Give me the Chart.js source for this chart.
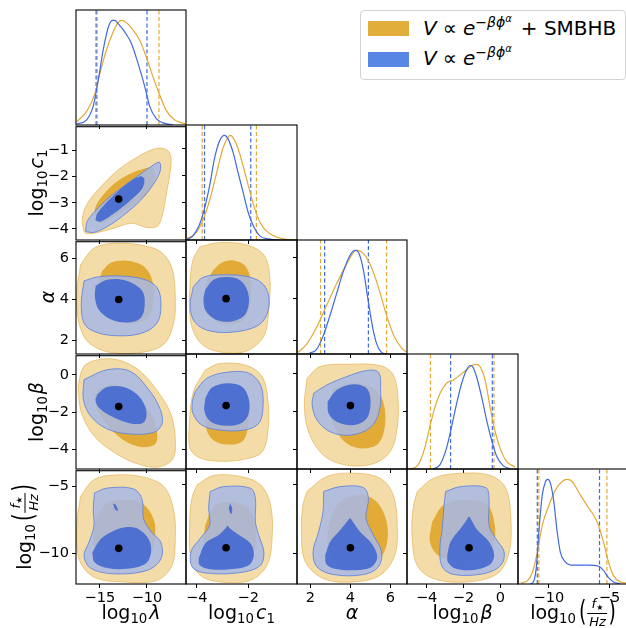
<!DOCTYPE html>
<html><head><meta charset="utf-8">
<script src="https://cdn.jsdelivr.net/npm/chart.js@4.4.1/dist/chart.umd.min.js"></script>
<style>
html,body{margin:0;padding:0;background:#fff;}
body{width:626px;height:628px;position:relative;overflow:hidden;font-family:"DejaVu Sans",sans-serif;color:#000;}
.pw{position:absolute;}
.pw canvas{display:block;}
.lab{position:absolute;font-size:19px;line-height:19px;white-space:nowrap;}
.xl{transform:translateX(-50%);}
.yl{transform:translate(-50%,-50%) rotate(-90deg);}
.it{font-style:italic;}
.sub{font-size:13.3px;position:relative;top:4px;}
.fr{display:inline-block;position:relative;width:20px;height:0;margin:0 1px;}
.fr .n{position:absolute;left:0;right:0;bottom:5px;text-align:center;font-size:13px;line-height:13px;border-bottom:1px solid #000;padding-bottom:1px;}
.fr .d{position:absolute;left:0;right:0;top:-4px;text-align:center;font-size:13px;line-height:13px;}
.st{font-size:8px;position:relative;top:2px;}
.bp{display:inline-block;transform:scaleY(1.45);transform-origin:50% 11px;}
#legend{position:absolute;left:360px;top:10px;width:264px;height:68px;border:1px solid #d3d3d3;border-radius:4px;background:#fff;}
.sw{position:absolute;left:7px;width:41px;height:15px;}
.lt{position:absolute;left:62px;font-size:20px;line-height:20px;white-space:nowrap;}
.sp{font-size:14px;position:relative;top:-8px;}
.sp2{font-size:10px;position:relative;top:-5px;}
</style></head><body>
<div id="panels"></div>

<div class="lab xl" style="left:131px;top:603px">log<span class="sub">10</span><span class="it" style="margin-left:2px">λ</span></div>
<div class="lab xl" style="left:241.5px;top:603px">log<span class="sub">10</span><span class="it" style="margin-left:2px">c</span><span class="sub">1</span></div>
<div class="lab xl" style="left:352px;top:603px"><span class="it">α</span></div>
<div class="lab xl" style="left:462.5px;top:603px">log<span class="sub">10</span><span class="it" style="margin-left:2px">β</span></div>
<div class="lab xl" style="left:573px;top:603px">log<span class="sub">10</span><span class="bp" style="margin-left:3px">(</span><span class="fr"><span class="n"><span class="it">f</span><span class="st">★</span></span><span class="d it">Hz</span></span><span class="bp">)</span></div>

<div class="lab yl" style="left:36.8px;top:182.5px">log<span class="sub">10</span><span class="it" style="margin-left:2px">c</span><span class="sub">1</span></div>
<div class="lab yl" style="left:46.5px;top:297px"><span class="it">α</span></div>
<div class="lab yl" style="left:36.8px;top:411.5px">log<span class="sub">10</span><span class="it" style="margin-left:2px">β</span></div>
<div class="lab yl" style="left:24.5px;top:526.5px">log<span class="sub">10</span><span class="bp" style="margin-left:3px">(</span><span class="fr"><span class="n"><span class="it">f</span><span class="st">★</span></span><span class="d it">Hz</span></span><span class="bp">)</span></div>

<div id="legend">
  <div class="sw" style="top:10px;background:rgb(225,174,60);"></div>
  <div class="sw" style="top:40.5px;background:rgb(88,134,228);"></div>
  <div class="lt" style="top:6.8px"><span class="it">V</span><span style="margin:0 6px">∝</span><span class="it">e</span><span class="sp">−<span class="it">βϕ</span><span class="sp2 it">α</span></span><span style="margin-left:9px">+ SMBHB</span></div>
  <div class="lt" style="top:36.8px"><span class="it">V</span><span style="margin:0 6px">∝</span><span class="it">e</span><span class="sp">−<span class="it">βϕ</span><span class="sp2 it">α</span></span></div>
</div>

<script>
// ---------------- DATA ----------------
// axis ranges and ticks per variable: [log10 lambda, log10 c1, alpha, log10 beta, log10 f*/Hz]
const X_RANGES = [[-17.53,-5.86],[-4.42,-0.10],[1.33,6.83],[-5.06,0.95],[-12.54,-3.47]];
const Y_RANGES = [null,[-4.42,-0.10],[1.33,6.83],[-5.04,1.02],[-12.26,-3.84]];
const X_TICKS = [[-15,-10],[-4,-2],[2,4,6],[-4,-2,0],[-10,-5]];
const Y_TICKS = [[],[-4,-3,-2,-1],[2,4,6],[-4,-2,0],[-10,-5]];
const MEDIAN = [-13.0,-2.86,4.0,-1.70,-9.61];

// 1D marginal densities (normalised to peak = 1): SMBHB (orange) and no SMBHB (blue)
const lam_S = [[-17.46,0.03],[-16.40,0.13],[-15.52,0.30],[-14.98,0.50],[-14.29,0.72],[-13.59,0.89],[-13.06,0.98],[-12.71,1.0],[-12.36,0.99],[-11.65,0.93],[-10.77,0.81],[-10.07,0.65],[-9.36,0.46],[-8.66,0.29],[-7.96,0.14],[-7.08,0.05],[-5.92,0.01]];
const lam_N = [[-17.46,0.01],[-16.40,0.05],[-15.70,0.18],[-15.17,0.43],[-14.64,0.72],[-14.12,0.93],[-13.66,1.0],[-13.41,1.0],[-13.06,0.97],[-12.36,0.89],[-11.65,0.78],[-10.95,0.59],[-10.24,0.37],[-9.72,0.18],[-9.01,0.06],[-8.31,0.02],[-7.25,0]];
const c1_S = [[-4.41,0.01],[-4.02,0.07],[-3.76,0.19],[-3.50,0.38],[-3.24,0.63],[-2.98,0.88],[-2.79,0.98],[-2.70,1.0],[-2.59,0.98],[-2.40,0.88],[-2.20,0.71],[-1.94,0.47],[-1.68,0.25],[-1.42,0.12],[-1.09,0.05],[-0.64,0.01],[-0.12,0]];
const c1_N = [[-4.41,0],[-4.15,0.04],[-3.89,0.15],[-3.70,0.30],[-3.50,0.52],[-3.31,0.78],[-3.11,0.95],[-2.92,1.0],[-2.79,0.97],[-2.59,0.84],[-2.40,0.65],[-2.20,0.46],[-2.02,0.28],[-1.81,0.14],[-1.55,0.04],[-1.22,0.01],[-0.77,0]];
const alpha_S = [[1.33,0.01],[1.80,0.09],[2.29,0.25],[2.79,0.46],[3.29,0.67],[3.79,0.86],[4.12,0.97],[4.28,1.0],[4.53,0.99],[4.95,0.88],[5.36,0.67],[5.78,0.39],[6.19,0.17],[6.60,0.05],[6.80,0.02]];
const alpha_N = [[1.96,0.01],[2.29,0.04],[2.63,0.17],[2.96,0.36],[3.29,0.57],[3.62,0.78],[3.95,0.94],[4.12,0.99],[4.28,1.0],[4.45,0.96],[4.65,0.81],[4.86,0.55],[5.11,0.26],[5.31,0.10],[5.53,0.02],[5.78,0]];
const beta_S = [[-4.91,0],[-4.46,0.04],[-4.10,0.20],[-3.83,0.40],[-3.55,0.59],[-3.28,0.72],[-2.92,0.82],[-2.56,0.85],[-2.19,0.90],[-1.83,0.95],[-1.56,0.99],[-1.32,1.0],[-1.11,0.98],[-0.83,0.85],[-0.56,0.59],[-0.29,0.36],[-0.02,0.20],[0.34,0.07],[0.80,0.02]];
const beta_N = [[-3.65,0],[-3.28,0.04],[-2.92,0.20],[-2.65,0.40],[-2.38,0.62],[-2.10,0.82],[-1.83,0.95],[-1.65,0.99],[-1.51,0.98],[-1.29,0.88],[-1.02,0.69],[-0.74,0.46],[-0.47,0.27],[-0.20,0.12],[0.16,0.03],[0.52,0]];
const f_S = [[-12.32,0.01],[-11.77,0.03],[-11.36,0.11],[-10.95,0.30],[-10.54,0.56],[-10.00,0.75],[-9.45,0.90],[-8.90,0.98],[-8.49,1.0],[-8.08,0.98],[-7.54,0.88],[-6.85,0.75],[-6.31,0.66],[-5.90,0.56],[-5.49,0.40],[-5.08,0.21],[-4.67,0.08],[-4.12,0.02],[-3.63,0.01]];
const f_N = [[-11.50,0],[-11.23,0.03],[-11.01,0.18],[-10.82,0.50],[-10.54,0.85],[-10.27,0.98],[-10.08,1.0],[-9.86,0.96],[-9.59,0.79],[-9.31,0.50],[-9.04,0.30],[-8.63,0.21],[-7.95,0.18],[-6.85,0.18],[-5.90,0.17],[-5.49,0.13],[-5.08,0.06],[-4.67,0.02],[-4.12,0]];

// dashed credible-interval bounds
const QUANT_S = [[-15.28,-8.73],[-3.79,-1.68],[2.51,5.81],[-3.79,-0.35],[-10.82,-5.21]];
const QUANT_N = [[-15.40,-10.0],[-3.70,-1.90],[2.71,4.90],[-2.70,-0.44],[-10.95,-5.82]];

// 2D credible contours (S = SMBHB orange, N = blue; 95 = outer, 68 = inner)
const c10_S95 = [[-16.75,-4.03],[-16.86,-3.59],[-16.33,-3.03],[-14.92,-2.40],[-13.16,-1.78],[-11.40,-1.34],[-9.64,-1.00],[-8.41,-0.92],[-7.60,-1.09],[-7.46,-1.59],[-7.88,-2.53],[-8.41,-3.53],[-8.94,-3.91],[-10.17,-3.93],[-11.58,-3.78],[-13.87,-4.01],[-15.63,-4.16],[-16.51,-4.16]];
const c10_S68 = [[-15.63,-3.66],[-15.40,-3.10],[-13.87,-2.40],[-12.11,-1.95],[-10.35,-1.70],[-9.25,-1.72],[-9.25,-2.20],[-10.17,-2.72],[-11.76,-3.15],[-13.52,-3.53],[-14.92,-3.78]];
const c10_N95 = [[-16.51,-4.10],[-16.33,-3.70],[-14.92,-3.10],[-13.16,-2.55],[-11.05,-2.00],[-9.29,-1.55],[-8.66,-1.46],[-8.59,-1.78],[-9.29,-2.28],[-10.70,-2.91],[-12.46,-3.47],[-14.22,-3.91],[-15.63,-4.13]];
const c10_N68 = [[-15.45,-3.68],[-15.28,-3.41],[-13.87,-2.84],[-12.11,-2.28],[-10.70,-1.99],[-10.28,-2.09],[-10.52,-2.47],[-11.76,-2.91],[-13.52,-3.41],[-14.92,-3.72]];

const c20_S95 = [[-17.04,5.71],[-15.63,6.51],[-13.52,6.75],[-10.70,6.67],[-8.59,6.35],[-7.36,5.55],[-7.00,4.11],[-7.18,2.84],[-8.24,1.80],[-10.70,1.40],[-13.87,1.40],[-16.16,1.88],[-17.21,2.84],[-17.46,4.27]];
const c20_S68 = [[-14.75,5.39],[-13.87,5.79],[-12.11,5.90],[-10.35,5.63],[-9.47,4.99],[-9.29,4.11],[-9.82,3.16],[-11.40,2.84],[-13.52,3.00],[-14.92,3.63],[-15.28,4.59]];
const c20_N95 = [[-16.68,4.91],[-15.28,5.10],[-12.81,5.15],[-10.35,4.99],[-8.94,4.59],[-8.52,3.79],[-8.94,2.84],[-10.70,2.33],[-13.52,2.23],[-15.63,2.44],[-16.68,2.84],[-16.97,3.79]];
const c20_N68 = [[-15.45,4.67],[-14.22,4.97],[-12.11,4.91],[-10.52,4.43],[-10.24,3.72],[-10.70,3.08],[-12.11,2.87],[-13.87,3.03],[-15.10,3.48],[-15.52,4.11]];

const c21_S95 = [[-3.87,6.51],[-3.09,6.71],[-2.05,6.59],[-1.39,6.11],[-1.16,5.07],[-1.20,3.48],[-1.39,2.20],[-2.05,1.48],[-2.96,1.40],[-3.80,1.80],[-4.23,2.84],[-4.26,4.75],[-4.15,5.87]];
const c21_S68 = [[-3.35,5.39],[-3.02,5.74],[-2.57,5.84],[-2.11,5.58],[-1.91,4.91],[-1.91,3.80],[-2.17,3.00],[-2.76,2.76],[-3.35,3.00],[-3.67,3.80],[-3.63,4.75]];
const c21_N95 = [[-4.13,4.59],[-3.74,5.04],[-2.96,5.15],[-2.05,5.07],[-1.46,4.75],[-1.20,4.11],[-1.27,3.24],[-1.65,2.68],[-2.57,2.39],[-3.48,2.44],[-4.06,2.84],[-4.26,3.64]];
const c21_N68 = [[-3.67,4.43],[-3.35,4.91],[-2.82,5.04],[-2.30,4.88],[-2.02,4.35],[-1.98,3.72],[-2.17,3.16],[-2.70,2.89],[-3.28,3.00],[-3.65,3.40],[-3.74,3.95]];

const c30_S95 = [[-17.32,-0.61],[-16.68,0.45],[-14.92,0.83],[-12.81,0.76],[-10.70,0.18],[-8.76,-0.96],[-7.46,-2.11],[-7.00,-3.43],[-7.25,-4.49],[-8.76,-4.93],[-11.05,-4.76],[-13.52,-4.14],[-15.63,-3.26],[-16.97,-2.02]];
const c30_S68 = [[-15.28,-0.79],[-13.52,-0.52],[-11.40,-0.96],[-9.64,-2.02],[-8.94,-3.08],[-9.12,-3.70],[-10.52,-3.87],[-12.11,-3.61],[-13.87,-2.90],[-15.10,-2.02],[-15.56,-1.32]];
const c30_N95 = [[-16.68,-0.26],[-14.22,0.27],[-11.76,0.18],[-9.82,-0.79],[-8.59,-1.85],[-8.41,-2.64],[-9.29,-3.08],[-11.76,-3.17],[-14.22,-2.90],[-15.98,-2.20],[-16.75,-1.32]];
const c30_N68 = [[-15.28,-1.05],[-14.22,-0.66],[-12.46,-0.66],[-10.88,-1.14],[-10.07,-1.93],[-10.35,-2.55],[-11.76,-2.60],[-13.52,-2.29],[-14.92,-1.85],[-15.45,-1.41]];

const c31_S95 = [[-3.67,0.18],[-3.09,0.52],[-2.05,0.41],[-1.46,-0.17],[-1.24,-1.32],[-1.22,-2.90],[-1.46,-4.14],[-2.17,-4.53],[-3.09,-4.63],[-3.87,-4.46],[-4.26,-3.96],[-4.28,-2.55],[-4.13,-0.96]];
const c31_S68 = [[-3.61,-1.49],[-3.35,-0.79],[-2.82,-0.58],[-2.24,-0.79],[-1.98,-1.67],[-2.02,-2.90],[-2.24,-3.61],[-2.82,-3.75],[-3.35,-3.52],[-3.63,-2.90]];
const c31_N95 = [[-4.06,-0.96],[-3.61,-0.26],[-2.82,0.06],[-1.98,0.01],[-1.52,-0.61],[-1.42,-1.67],[-1.59,-2.64],[-2.17,-2.99],[-3.09,-2.99],[-3.80,-2.73],[-4.15,-2.11],[-4.17,-1.49]];
const c31_N68 = [[-3.67,-1.32],[-3.41,-0.75],[-2.82,-0.52],[-2.24,-0.70],[-1.98,-1.32],[-1.98,-2.11],[-2.24,-2.60],[-2.82,-2.76],[-3.41,-2.59],[-3.70,-2.02]];

const c32_S95 = [[1.83,-0.26],[2.49,0.36],[3.98,0.48],[5.48,0.41],[6.14,-0.08],[6.39,-1.49],[6.31,-3.08],[5.98,-4.14],[5.15,-4.76],[3.82,-4.84],[2.66,-4.32],[1.91,-3.08],[1.70,-1.67]];
const c32_S68 = [[3.16,-0.79],[4.15,-0.52],[5.15,-0.79],[5.64,-1.49],[5.73,-2.73],[5.40,-3.70],[4.65,-3.96],[3.82,-3.70],[3.24,-2.90],[2.96,-1.85]];
const c32_N95 = [[2.16,-1.05],[2.82,-0.61],[3.82,-0.17],[4.81,0.15],[5.40,0.06],[5.51,-0.79],[5.44,-2.02],[4.98,-2.87],[3.98,-3.26],[2.99,-3.08],[2.33,-2.46],[2.09,-1.67]];
const c32_N68 = [[2.86,-1.49],[3.32,-0.88],[4.15,-0.58],[4.81,-0.79],[5.01,-1.49],[4.81,-2.38],[4.15,-2.73],[3.32,-2.55],[2.91,-2.11]];

const c40_S95 = [[-17.04,-5.74],[-15.63,-4.51],[-13.16,-4.15],[-10.35,-4.32],[-8.24,-5.00],[-7.18,-6.72],[-7.00,-8.93],[-7.36,-10.89],[-8.94,-11.99],[-12.46,-12.11],[-15.63,-11.74],[-17.21,-10.40],[-17.46,-7.95]];
const c40_S68 = [[-15.45,-7.45],[-14.22,-6.23],[-12.11,-5.98],[-10.35,-6.35],[-9.29,-7.45],[-9.12,-8.56],[-9.47,-9.91],[-11.05,-10.89],[-13.52,-11.01],[-15.28,-10.40],[-15.70,-8.93]];
const c40_N95 = [[-15.56,-5.49],[-14.22,-5.13],[-11.40,-5.20],[-10.52,-5.98],[-10.35,-7.45],[-9.47,-8.44],[-8.52,-9.17],[-8.52,-10.40],[-10.00,-11.25],[-13.52,-11.50],[-15.98,-11.08],[-16.68,-10.15],[-16.16,-9.17],[-15.63,-7.95],[-15.70,-6.72]];
const c40_N68 = [[-15.80,-9.91],[-14.92,-8.93],[-13.52,-8.31],[-12.28,-8.04],[-10.88,-8.19],[-9.82,-8.93],[-9.57,-9.91],[-10.17,-10.76],[-12.11,-11.13],[-14.22,-11.08],[-15.56,-10.64]];
const c40_Nisland = [[-13.59,-6.28],[-13.28,-6.40],[-13.09,-6.82],[-13.40,-6.70]];

const c41_S95 = [[-3.99,-5.00],[-3.35,-4.32],[-2.30,-4.39],[-1.52,-5.00],[-1.13,-6.47],[-1.07,-8.93],[-1.27,-10.89],[-1.91,-11.99],[-3.09,-12.11],[-3.87,-11.62],[-4.23,-10.40],[-4.28,-7.95],[-4.19,-5.98]];
const c41_S68 = [[-3.67,-7.95],[-3.35,-6.60],[-2.70,-6.23],[-1.98,-6.72],[-1.72,-8.19],[-1.78,-9.91],[-2.30,-10.89],[-3.09,-11.01],[-3.61,-10.27],[-3.74,-9.17]];
const c41_N95 = [[-3.48,-5.49],[-2.96,-5.13],[-1.91,-5.25],[-1.72,-5.98],[-1.72,-7.70],[-1.59,-8.68],[-1.39,-9.91],[-1.52,-10.89],[-2.17,-11.38],[-3.35,-11.50],[-4.13,-11.13],[-4.23,-9.91],[-3.87,-8.93],[-3.50,-7.95],[-3.54,-6.72]];
const c41_N68 = [[-3.93,-10.40],[-3.67,-9.29],[-3.15,-8.68],[-2.88,-8.18],[-2.80,-8.00],[-2.72,-8.18],[-2.44,-8.56],[-1.91,-9.29],[-1.78,-10.15],[-1.98,-10.89],[-2.70,-11.18],[-3.48,-11.18],[-3.89,-10.89]];
const c41_Nisland = [[-2.70,-6.35],[-2.62,-6.75],[-2.66,-7.15],[-2.75,-6.75]];

const c42_S95 = [[1.83,-5.49],[2.82,-4.39],[4.15,-4.15],[5.48,-4.51],[6.14,-5.74],[6.34,-7.95],[6.22,-10.15],[5.48,-11.62],[4.15,-12.11],[2.66,-11.87],[1.75,-10.64],[1.55,-8.44],[1.63,-6.47]];
const c42_S68 = [[2.99,-7.45],[3.49,-6.23],[4.48,-5.74],[5.31,-6.23],[5.81,-7.70],[5.81,-9.42],[5.31,-10.64],[4.32,-11.13],[3.32,-10.64],[2.86,-9.17]];
const c42_N95 = [[2.66,-5.49],[3.49,-5.13],[4.65,-5.20],[4.90,-5.98],[4.78,-7.45],[5.15,-8.68],[5.56,-9.91],[5.40,-11.01],[4.65,-11.57],[3.16,-11.57],[2.33,-11.01],[2.13,-9.91],[2.41,-8.44],[2.63,-6.96]];
const c42_N68 = [[2.74,-10.15],[2.99,-9.17],[3.49,-8.31],[3.86,-7.65],[3.98,-7.45],[4.10,-7.65],[4.48,-8.44],[5.06,-9.29],[5.34,-10.27],[5.06,-11.01],[4.15,-11.25],[3.16,-11.13],[2.78,-10.76]];

const c43_S95 = [[-4.51,-5.49],[-3.61,-4.51],[-2.16,-4.15],[-0.53,-4.32],[0.29,-5.25],[0.56,-7.45],[0.47,-9.91],[-0.16,-11.50],[-1.80,-12.11],[-3.61,-11.87],[-4.51,-10.89],[-4.79,-8.68],[-4.73,-6.72]];
const c43_S68 = [[-3.70,-7.70],[-3.07,-6.47],[-1.80,-6.11],[-0.71,-6.47],[-0.31,-7.95],[-0.38,-9.42],[-0.89,-10.27],[-2.16,-10.52],[-3.33,-10.20],[-3.82,-9.17]];
const c43_N95 = [[-2.97,-5.49],[-2.16,-5.13],[-0.80,-5.20],[-0.62,-5.98],[-0.62,-7.95],[-0.26,-8.93],[0.20,-9.91],[0.02,-10.89],[-0.89,-11.50],[-2.52,-11.57],[-3.15,-11.01],[-3.28,-9.66],[-3.15,-8.19],[-3.07,-6.72]];
const c43_N68 = [[-2.88,-10.15],[-2.70,-9.17],[-2.16,-8.19],[-1.82,-7.55],[-1.70,-7.33],[-1.58,-7.55],[-1.25,-8.31],[-0.62,-9.17],[-0.34,-10.15],[-0.62,-10.89],[-1.61,-11.25],[-2.52,-11.08],[-2.85,-10.64]];

// ---------------- assembly ----------------
const MARGINALS = [[lam_S,lam_N],[c1_S,c1_N],[alpha_S,alpha_N],[beta_S,beta_N],[f_S,f_N]];
const CONTOURS = {
  '1,0':[c10_S95,c10_S68,c10_N95,c10_N68,[]],
  '2,0':[c20_S95,c20_S68,c20_N95,c20_N68,[]],
  '2,1':[c21_S95,c21_S68,c21_N95,c21_N68,[]],
  '3,0':[c30_S95,c30_S68,c30_N95,c30_N68,[]],
  '3,1':[c31_S95,c31_S68,c31_N95,c31_N68,[]],
  '3,2':[c32_S95,c32_S68,c32_N95,c32_N68,[]],
  '4,0':[c40_S95,c40_S68,c40_N95,c40_N68,c40_Nisland],
  '4,1':[c41_S95,c41_S68,c41_N95,c41_N68,c41_Nisland],
  '4,2':[c42_S95,c42_S68,c42_N95,c42_N68,[]],
  '4,3':[c43_S95,c43_S68,c43_N95,c43_N68,[]]
};

// ---------------- layout & style ----------------
const ML = 60, MT = 10, MR = 10, MB = 40;
const COL_EDGES = [76,186,297,407,518,628];
const ROW_EDGES = [10,125,240,354,469,584];
const ORANGE = 'rgb(225,170,55)', BLUE = 'rgb(65,105,225)';
const S95_FILL = 'rgba(228,168,40,0.40)', S95_EDGE = 'rgba(222,165,50,0.55)';
const S68_FILL = 'rgba(224,166,43,0.90)';
const N95_FILL = 'rgba(168,185,229,0.86)', N95_EDGE = 'rgba(95,130,220,0.85)';
const N68_FILL = 'rgba(62,100,208,0.86)';

Chart.defaults.font.family = '"DejaVu Sans", sans-serif';
Chart.defaults.color = '#000';

function fmt(v){ return v < 0 ? '\u2212' + Math.abs(v) : String(v); }
function toPts(a){ return a.map(p => ({x:p[0], y:p[1]})); }
function closed(a){ const p = toPts(a); p.push({x:a[0][0], y:a[0][1]}); return p; }

const framePlugin = {id:'frame', afterDraw(chart){
  const a = chart.chartArea, ctx = chart.ctx;
  ctx.save(); ctx.strokeStyle = '#000'; ctx.lineWidth = 1.1;
  ctx.strokeRect(a.left, a.top, a.right - a.left, a.bottom - a.top);
  ctx.restore();
}};

function tickAxis(range, ticks, pos, showLabels, fitFn){
  return {
    type:'linear', position:pos, min:range[0], max:range[1], bounds:'data',
    grid:{display:true, drawOnChartArea:false, drawTicks:true, tickLength:4, color:'#000', lineWidth:1},
    border:{display:false},
    ticks:{display:showLabels, color:'#000', font:{size:14.5}, padding:pos === 'left' ? 3 : 2,
           maxRotation:0, minRotation:0, autoSkip:false, callback:fmt},
    afterBuildTicks: s => { s.ticks = ticks.map(v => ({value:v})); },
    afterFit: fitFn
  };
}

function polyDS(a, fillColor, edge){
  return {data:closed(a), showLine:true, fill:'shape', backgroundColor:fillColor,
          borderColor: edge || 'rgba(0,0,0,0)', borderWidth: edge ? 1 : 0,
          pointRadius:0, pointHoverRadius:0, tension:0.35};
}

function makePanel(r, c){
  const x0 = COL_EDGES[c], x1 = COL_EDGES[c+1], y0 = ROW_EDGES[r], y1 = ROW_EDGES[r+1];
  const W = x1 - x0 + ML + MR, H = y1 - y0 + MT + MB;
  const div = document.createElement('div');
  div.className = 'pw';
  div.style.left = (x0 - ML) + 'px'; div.style.top = (y0 - MT) + 'px';
  div.style.width = W + 'px'; div.style.height = H + 'px';
  const cv = document.createElement('canvas');
  cv.width = W; cv.height = H; cv.style.width = W + 'px'; cv.style.height = H + 'px';
  div.appendChild(cv);
  document.getElementById('panels').appendChild(div);

  const xAxis = tickAxis(X_RANGES[c], X_TICKS[c], 'bottom', r === 4, s => { s.height = MB; });
  let scales, datasets = [];
  let padLeft = 0;
  if (r === c) {
    scales = {x:xAxis, y:{type:'linear', display:false, min:0, max:1.1}};
    if (r > 0) {
      scales.yt = tickAxis(Y_RANGES[r], Y_TICKS[r], 'left', false, s => { s.width = ML; });
    } else {
      padLeft = ML;
    }
    const [S, N] = MARGINALS[c];
    const vline = (v, col) => ({data:[{x:v,y:0},{x:v,y:1.1}], showLine:true, borderColor:col,
      borderWidth:1.2, borderDash:[4,2.5], pointRadius:0, fill:false, yAxisID:'y'});
    datasets.push(vline(QUANT_S[c][0], ORANGE), vline(QUANT_S[c][1], ORANGE));
    datasets.push(vline(QUANT_N[c][0], BLUE), vline(QUANT_N[c][1], BLUE));
    datasets.push({data:toPts(S), showLine:true, borderColor:ORANGE, borderWidth:1.2, pointRadius:0,
      fill:false, cubicInterpolationMode:'monotone', yAxisID:'y'});
    datasets.push({data:toPts(N), showLine:true, borderColor:BLUE, borderWidth:1.2, pointRadius:0,
      fill:false, cubicInterpolationMode:'monotone', yAxisID:'y'});
  } else {
    scales = {x:xAxis, y:tickAxis(Y_RANGES[r], Y_TICKS[r], 'left', c === 0, s => { s.width = ML; })};
    const [s95, s68, n95, n68, isl] = CONTOURS[r + ',' + c];
    datasets.push(polyDS(s95, S95_FILL, S95_EDGE));
    datasets.push(polyDS(s68, S68_FILL));
    datasets.push(polyDS(n95, N95_FILL, N95_EDGE));
    datasets.push(polyDS(n68, N68_FILL));
    if (isl.length) datasets.push(polyDS(isl, N68_FILL));
    datasets.push({data:[{x:MEDIAN[c], y:MEDIAN[r]}], pointRadius:3.8, pointBackgroundColor:'#000',
      pointBorderWidth:0, showLine:false});
  }
  const n = datasets.length;
  datasets.forEach((d, i) => { d.order = n - i; });

  new Chart(cv, {
    type:'scatter',
    data:{datasets},
    options:{
      responsive:false, animation:false, devicePixelRatio:1, events:[],
      layout:{padding:{top:MT, right:MR, left:padLeft, bottom:0}},
      plugins:{legend:{display:false}, tooltip:{enabled:false}},
      scales
    },
    plugins:[framePlugin]
  });
}

for (let r = 0; r < 5; r++) for (let c = 0; c <= r; c++) makePanel(r, c);
</script>
</body></html>
